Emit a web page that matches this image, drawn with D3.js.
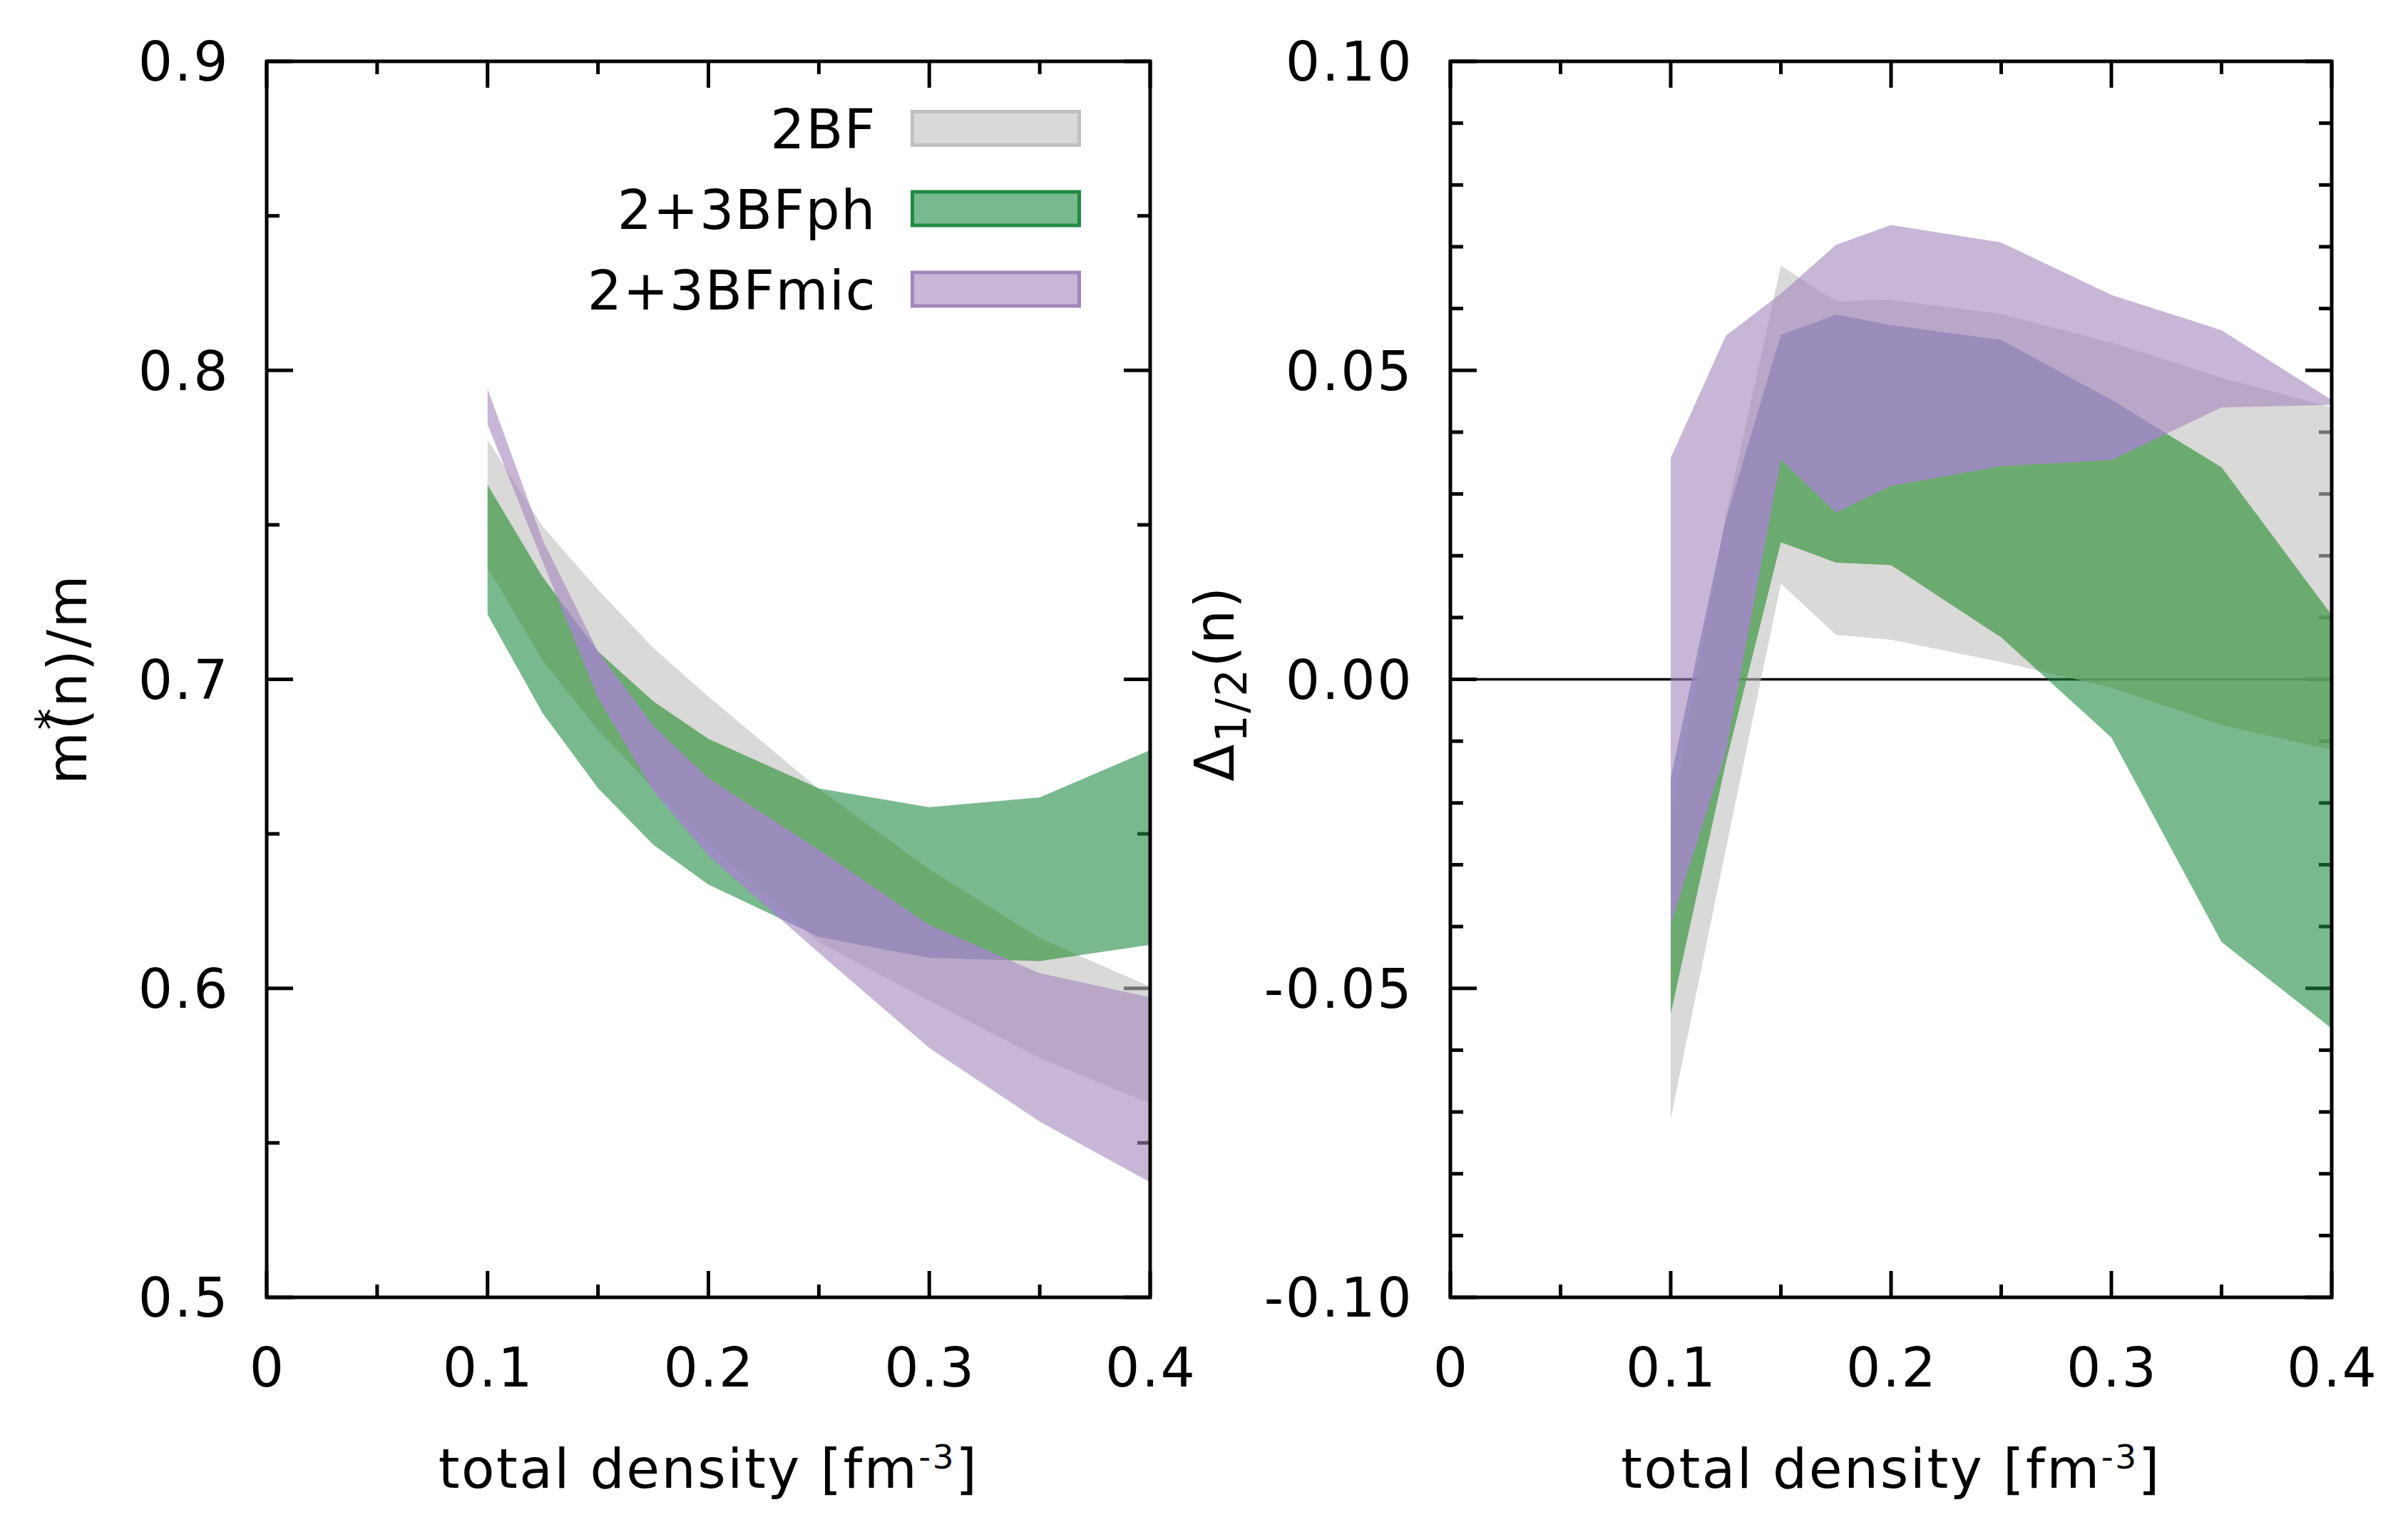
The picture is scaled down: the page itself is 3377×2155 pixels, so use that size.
<!DOCTYPE html>
<html>
<head>
<meta charset="utf-8">
<script src="https://cdn.jsdelivr.net/npm/d3@7"></script>
<style>
  html, body { margin: 0; padding: 0; background: #ffffff; }
  svg { display: block; }
  text { font-family: "DejaVu Sans", Verdana, sans-serif; fill: #000; }
</style>
</head>
<body>
<svg id="chart" width="3377" height="2155"></svg>
<script>
// ---------------- data ----------------
const density = [0.1, 0.125, 0.15, 0.175, 0.2, 0.25, 0.3, 0.35, 0.4];

const seriesNames  = ["2BF", "2+3BFph", "2+3BFmic"];
const seriesColors = ["#c0c0be", "#1f8a43", "#a386bd"];

// left panel: m*(n)/m bands
const mEff_2BF_lo = [0.7364, 0.7060, 0.6837, 0.6648, 0.6470, 0.6150, 0.5960, 0.5775, 0.5627];
const mEff_2BF_hi = [0.7775, 0.7494, 0.7290, 0.7102, 0.6944, 0.6645, 0.6385, 0.6162, 0.6005];
const mEff_ph_lo  = [0.7210, 0.6890, 0.6648, 0.6465, 0.6336, 0.6167, 0.6099, 0.6088, 0.6141];
const mEff_ph_hi  = [0.7629, 0.7330, 0.7090, 0.6929, 0.6807, 0.6647, 0.6586, 0.6618, 0.6771];
const mEff_mic_lo = [0.7825, 0.7380, 0.6940, 0.6640, 0.6430, 0.6115, 0.5807, 0.5569, 0.5372];
const mEff_mic_hi = [0.7940, 0.7450, 0.7090, 0.6850, 0.6680, 0.6448, 0.6205, 0.6049, 0.5971];

// right panel: Delta_{1/2}(n) bands
const d12_2BF_lo = [-0.0711, -0.0275, 0.0155, 0.0072, 0.0064, 0.0028, -0.0013, -0.0074, -0.0114];
const d12_2BF_hi = [-0.0233, 0.0265, 0.0669, 0.0612, 0.0614, 0.0591, 0.0545, 0.0488, 0.0440];
const d12_ph_lo  = [-0.0541, -0.0135, 0.0222, 0.0189, 0.0185, 0.0068, -0.0094, -0.0425, -0.0565];
const d12_ph_hi  = [-0.0161, 0.0258, 0.0557, 0.0590, 0.0573, 0.0549, 0.0452, 0.0343, 0.0104];
const d12_mic_lo = [-0.0396, -0.0118, 0.0356, 0.0270, 0.0313, 0.0345, 0.0355, 0.0440, 0.0444];
const d12_mic_hi = [0.0358, 0.0556, 0.0624, 0.0703, 0.0735, 0.0707, 0.0622, 0.0565, 0.0452];

// ticks
const xMajor = [0, 0.1, 0.2, 0.3, 0.4];
const xMinor = [0.05, 0.15, 0.25, 0.35];
const yLeftMajor  = [0.5, 0.6, 0.7, 0.8, 0.9];
const yLeftMinor  = [0.55, 0.65, 0.75, 0.85];
const yRightMajor = [-0.10, -0.05, 0.00, 0.05, 0.10];
const yRightMinor = [-0.09, -0.08, -0.07, -0.06, -0.04, -0.03, -0.02, -0.01,
                     0.01, 0.02, 0.03, 0.04, 0.06, 0.07, 0.08, 0.09];

// ---------------- drawing ----------------
const svg = d3.select("#chart");
svg.append("rect").attr("width", 3377).attr("height", 2155).attr("fill", "#ffffff");
const defs = svg.append("defs");

const FS = 76;
const LS = 2.5;      // letter spacing
const ALPHA = 0.6;
const MAJ = 37, MIN = 18, TW = 5;
// tone of overlapping areas in the original rendering
const OVER_MIC_PH = "rgb(164,137,208)";
const OVER_PH_2BF = "rgb(107,171,96)";

function zip(lo, hi) { return density.map((x, i) => ({x: x, lo: lo[i], hi: hi[i]})); }

function label(parent, x, y, anchor, str, ls) {
  return parent.append("text").attr("x", x).attr("y", y)
    .attr("text-anchor", anchor).attr("font-size", FS)
    .attr("letter-spacing", ls === undefined ? LS : ls).text(str);
}

function panel(opts) {
  const g = svg.append("g");
  const x = d3.scaleLinear().domain([0, 0.4]).range([opts.x0, opts.x1]);
  const y = d3.scaleLinear().domain(opts.yDomain).range([opts.y1, opts.y0]);

  // ticks (drawn below fills, like gnuplot)
  const tk = g.append("g").attr("stroke", "#000").attr("stroke-width", TW);
  const xt = xMajor.map(v => ({v, L: MAJ})).concat(xMinor.map(v => ({v, L: MIN})));
  xt.forEach(t => {
    tk.append("line").attr("x1", x(t.v)).attr("x2", x(t.v)).attr("y1", opts.y1).attr("y2", opts.y1 - t.L);
    tk.append("line").attr("x1", x(t.v)).attr("x2", x(t.v)).attr("y1", opts.y0).attr("y2", opts.y0 + t.L);
  });
  const yt = opts.yMajor.map(v => ({v, L: MAJ})).concat(opts.yMinor.map(v => ({v, L: MIN})));
  yt.forEach(t => {
    tk.append("line").attr("y1", y(t.v)).attr("y2", y(t.v)).attr("x1", opts.x0).attr("x2", opts.x0 + t.L);
    tk.append("line").attr("y1", y(t.v)).attr("y2", y(t.v)).attr("x1", opts.x1).attr("x2", opts.x1 - t.L);
  });

  if (opts.zeroLine) {
    g.append("line").attr("x1", opts.x0).attr("x2", opts.x1)
      .attr("y1", y(0)).attr("y2", y(0)).attr("stroke", "#000").attr("stroke-width", 3.5);
  }

  // bands
  const area = d3.area().x(d => x(d.x)).y0(d => y(d.lo)).y1(d => y(d.hi));
  const bandData = opts.bands.map(b => zip(b[0], b[1]));

  // clip paths for the gray and the green band
  const clipGray = opts.id + "-clip-2bf";
  const clipGreen = opts.id + "-clip-ph";
  defs.append("clipPath").attr("id", clipGray).append("path").datum(bandData[0]).attr("d", area);
  defs.append("clipPath").attr("id", clipGreen).append("path").datum(bandData[1]).attr("d", area);

  bandData.forEach((data, i) => {
    g.append("path").datum(data)
      .attr("d", area)
      .attr("fill", seriesColors[i])
      .attr("fill-opacity", ALPHA)
      .attr("stroke", "none");
    if (i === 1) {
      g.append("path").datum(data).attr("d", area)
        .attr("clip-path", `url(#${clipGray})`)
        .attr("fill", OVER_PH_2BF).attr("fill-opacity", 0.5);
    }
    if (i === 2) {
      g.append("path").datum(data).attr("d", area)
        .attr("clip-path", `url(#${clipGreen})`)
        .attr("fill", OVER_MIC_PH).attr("fill-opacity", ALPHA);
    }
  });

  // border
  g.append("rect").attr("x", opts.x0).attr("y", opts.y0)
    .attr("width", opts.x1 - opts.x0).attr("height", opts.y1 - opts.y0)
    .attr("fill", "none").attr("stroke", "#000").attr("stroke-width", TW);

  // tick labels
  xMajor.forEach(v => {
    label(g, x(v) + LS / 2, opts.y1 + 125, "middle", v === 0 ? "0" : d3.format(".1f")(v));
  });
  opts.yMajor.forEach(v => {
    label(g, opts.x0 - 52, y(v), "end", d3.format(opts.yFmt)(v).replace("\u2212", "-"))
      .attr("dy", "0.36em");
  });

  // x title
  const xt2 = g.append("text").attr("x", (opts.x0 + opts.x1) / 2).attr("y", 2086)
    .attr("text-anchor", "middle").attr("font-size", FS).attr("letter-spacing", LS);
  xt2.append("tspan").text("total density [fm");
  xt2.append("tspan").attr("font-size", 47).attr("dy", -27).text("-3");
  xt2.append("tspan").attr("dy", 27).text("]");

  return {g, x, y};
}

const left = panel({
  id: "left",
  x0: 374, x1: 1613, y0: 86, y1: 1819,
  yDomain: [0.5, 0.9], yMajor: yLeftMajor, yMinor: yLeftMinor, yFmt: ".1f",
  bands: [[mEff_2BF_lo, mEff_2BF_hi], [mEff_ph_lo, mEff_ph_hi], [mEff_mic_lo, mEff_mic_hi]],
  zeroLine: false
});

const right = panel({
  id: "right",
  x0: 2034, x1: 3270, y0: 86, y1: 1819,
  yDomain: [-0.1, 0.1], yMajor: yRightMajor, yMinor: yRightMinor, yFmt: ".2f",
  bands: [[d12_2BF_lo, d12_2BF_hi], [d12_ph_lo, d12_ph_hi], [d12_mic_lo, d12_mic_hi]],
  zeroLine: true
});

// y titles
const yl = svg.append("text").attr("transform", "translate(121,952) rotate(-90)")
  .attr("text-anchor", "middle").attr("font-size", FS).attr("letter-spacing", LS);
yl.append("tspan").text("m");
yl.append("tspan").attr("font-size", 61).attr("dy", -28).text("*");
yl.append("tspan").attr("dy", 28).attr("dx", -33).text("(n)/m");

const yr = svg.append("text").attr("transform", "translate(1730,958) rotate(-90)")
  .attr("text-anchor", "middle").attr("font-size", FS).attr("letter-spacing", LS);
yr.append("tspan").text("\u0394");
yr.append("tspan").attr("font-size", 61).attr("dy", 18).text("1/2");
yr.append("tspan").attr("dy", -18).text("(n)");

// legend
const legY = [180, 292.5, 405.5];
seriesNames.forEach((name, i) => {
  svg.append("rect").attr("x", 1279.5).attr("y", legY[i] - 23.5)
    .attr("width", 234).attr("height", 47)
    .attr("fill", seriesColors[i]).attr("fill-opacity", ALPHA)
    .attr("stroke", seriesColors[i]).attr("stroke-width", 5);
  label(svg, 1229, legY[i] + 28, "end", name, 1.5);
});
</script>
</body>
</html>
